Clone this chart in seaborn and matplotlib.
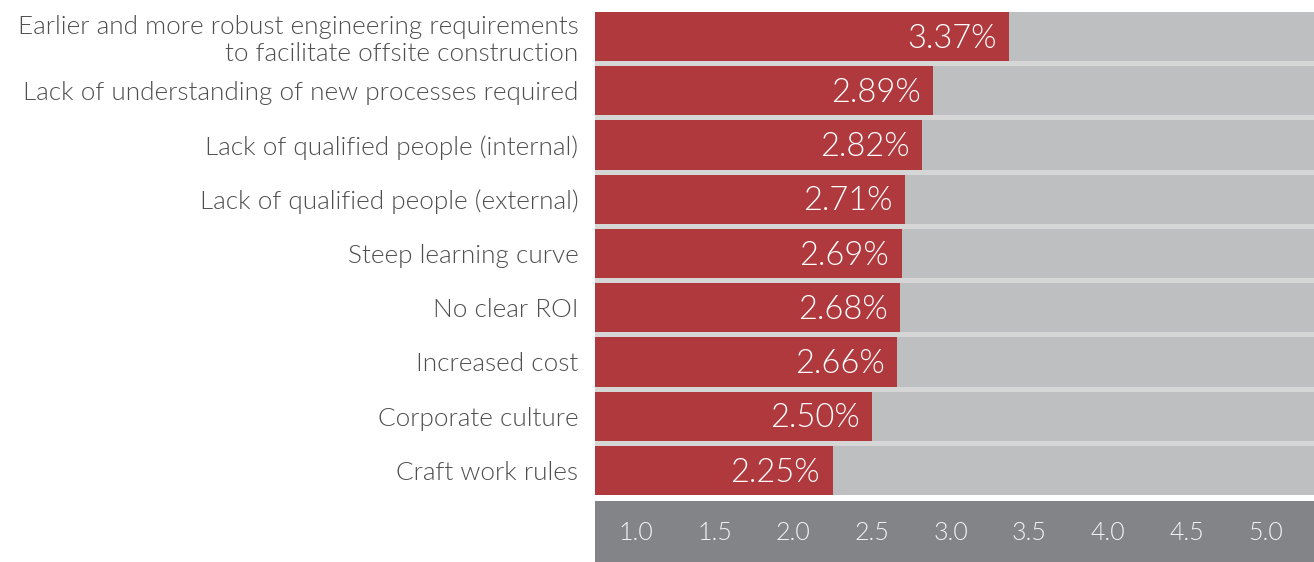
"""Offsite construction barriers: average rating bars."""

import matplotlib

matplotlib.use("Agg")
import matplotlib.pyplot as plt
import seaborn as sns

CATEGORIES = [
    "Earlier and more robust engineering requirements\nto facilitate offsite construction",
    "Lack of understanding of new processes required",
    "Lack of qualified people (internal)",
    "Lack of qualified people (external)",
    "Steep learning curve",
    "No clear ROI",
    "Increased cost",
    "Corporate culture",
    "Craft work rules",
]
VALUES = [3.37, 2.89, 2.82, 2.71, 2.69, 2.68, 2.66, 2.50, 2.25]
TICKS = [1.0, 1.5, 2.0, 2.5, 3.0, 3.5, 4.0, 4.5, 5.0]
X_MIN, X_MAX = 0.739, 5.310

RED = "#b0393e"
BAR_GRAY = "#bebfc1"
GAP_GRAY = "#d6d6d6"
BAND_GRAY = "#838488"
TEXT_GRAY = "#4f4f4f"

sns.set_theme(style="white")
plt.rcParams["font.family"] = ["Lato", "DejaVu Sans"]

W, H = 1314, 562
fig = plt.figure(figsize=(W / 100, H / 100), dpi=100)
ax = fig.add_axes([595 / W, (H - 495) / H, (W - 595) / W, 483 / H])
band = fig.add_axes([595 / W, 0, (W - 595) / W, 61 / H], sharex=ax)

bar_h = 0.908
sns.barplot(x=[X_MAX] * len(CATEGORIES), y=CATEGORIES, orient="h",
            color=BAR_GRAY, width=bar_h, linewidth=0, saturation=1, ax=ax)
sns.barplot(x=VALUES, y=CATEGORIES, orient="h", color=RED, width=bar_h,
            linewidth=0, saturation=1, ax=ax)

for i, v in enumerate(VALUES):
    ax.text(v - 0.08, i + 0.04, f"{v:.2f}%", ha="right", va="center",
            color="white", fontsize=23.5, fontweight=300)

ax.set_facecolor(GAP_GRAY)
ax.set_xlim(X_MIN, X_MAX)
ax.set_ylim(len(CATEGORIES) - 1 + bar_h / 2, -bar_h / 2)
ax.set_xlabel("")
ax.set_ylabel("")
ax.set_xticks([])
ax.tick_params(axis="y", length=0, pad=12, labelsize=18.8, labelcolor=TEXT_GRAY)
for lbl in ax.get_yticklabels():
    lbl.set_linespacing(1.15)
    lbl.set_fontweight(300)
for s in ax.spines.values():
    s.set_visible(False)

band.set_facecolor(BAND_GRAY)
band.set_ylim(0, 1)
band.set_xticks([])
band.set_yticks([])
for t in TICKS:
    band.text(t, 0.47, f"{t:.1f}", ha="center", va="center",
              color="#f4f4f4", fontsize=18, fontweight=300)
for s in band.spines.values():
    s.set_visible(False)

fig.savefig("out.png", dpi=100)
